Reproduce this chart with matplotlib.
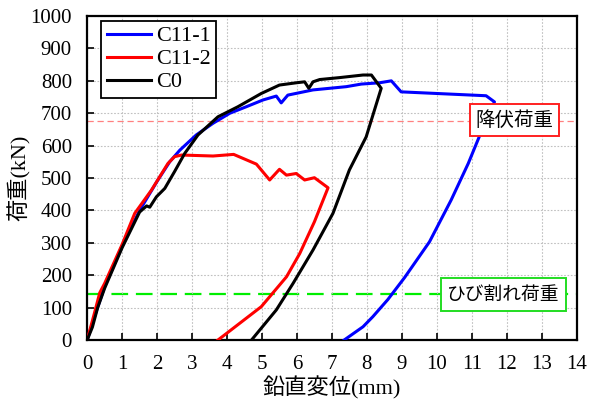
import matplotlib
matplotlib.use("Agg")
import matplotlib.pyplot as plt

# load-displacement curves (mm, kN)
c11_1_x = [0, 0.25, 0.5, 1.0, 1.5, 2.0, 2.36, 2.65, 3.12, 3.6, 4.08, 4.55, 5.03, 5.41, 5.55, 5.74,
           6.46, 7.41, 7.84, 8.36, 8.7, 8.98, 11.41, 11.65, 11.3, 10.9, 10.41, 9.79, 9.08, 8.6,
           8.17, 7.89, 7.35]
c11_1_y = [0, 85, 165, 290, 400, 490, 550, 586, 633, 669, 700, 720, 741, 753, 732, 756,
           772, 782, 790, 794, 800, 766, 754, 735, 650, 545, 432, 303, 193, 125,
           72, 41, 0]

c11_2_x = [0, 0.2, 0.36, 0.5, 1.0, 1.36, 1.84, 2.31, 2.5, 2.7, 3.6, 4.19, 4.84, 5.22, 5.5,
           5.7, 5.98, 6.22, 6.5, 6.89, 6.5, 6.08, 5.7, 4.98, 3.74]
c11_2_y = [0, 80, 146, 175, 295, 391, 463, 545, 566, 571, 568, 573, 543, 494, 527,
           509, 514, 494, 501, 470, 365, 267, 195, 103, 0]

c0_x = [0, 0.15, 0.3, 0.5, 1.0, 1.5, 1.7, 1.79, 1.98, 2.22, 2.5, 2.79, 3.17, 3.74, 4.31,
        4.98, 5.5, 5.98, 6.22, 6.34, 6.46, 6.65, 7.22, 7.89, 8.13, 8.41, 7.98, 7.5, 7.03,
        6.46, 5.89, 5.41, 4.7]
c0_y = [0, 40, 100, 160, 285, 395, 414, 410, 442, 468, 520, 576, 633, 689, 720,
        761, 787, 794, 797, 777, 797, 804, 810, 818, 818, 777, 627, 525, 391,
        278, 175, 93, 0]

yield_load = 676
crack_load = 141

serif = ['Liberation Serif', 'Noto Sans CJK JP']
gothic = ['Noto Sans CJK JP', 'DejaVu Sans']
plt.rcParams['font.family'] = serif

fig = plt.figure(figsize=(5.89, 4.01), dpi=100)
ax = fig.add_axes([0.148, 0.152, 0.831, 0.808])

ax.axhline(yield_load, color='#ff8080', lw=0.9, ls=(0, (5, 3)), zorder=1)
ax.axhline(crack_load, color='#00ee00', lw=1.6, ls=(0, (7.5, 3.5)), zorder=1)

ax.plot(c11_1_x, c11_1_y, color='#0000ff', lw=2.2, label='C11-1', zorder=3)
ax.plot(c11_2_x, c11_2_y, color='#ff0000', lw=2.2, label='C11-2', zorder=3)
ax.plot(c0_x, c0_y, color='black', lw=2.2, label='C0', zorder=3)

ax.text(12.22, 679, '降伏荷重', family=gothic, fontsize=14, ha='center', va='center',
        bbox=dict(boxstyle='square,pad=0.3', fc='white', ec='#ff2020', lw=1.4), zorder=4)
ax.text(11.9, 141, 'ひび割れ荷重', family=gothic, fontsize=13.5, ha='center', va='center',
        bbox=dict(boxstyle='square,pad=0.33', fc='white', ec='#22dd22', lw=1.4), zorder=4)

ax.set_xlim(0, 14)
ax.set_ylim(0, 1000)
ax.set_xticks(range(0, 15))
ax.set_yticks(range(0, 1001, 100))
ax.tick_params(direction='in', length=5, width=1.2, labelsize=15)
ax.tick_params(axis='x', pad=11)
ax.tick_params(axis='y', pad=11)
ax.grid(True, color='#c0c0c0', ls=(0, (1.5, 1.5)), lw=0.8)
for s in ax.spines.values():
    s.set_linewidth(1.6)

ax.set_xlabel('鉛直変位(mm)', fontsize=16, labelpad=1)
ax.set_ylabel('荷重(kN)', fontsize=16, labelpad=0)

leg = ax.legend(loc='upper left', bbox_to_anchor=(0.029, 0.986), borderaxespad=0,
                fontsize=16, fancybox=False, framealpha=1,
                edgecolor='black', handlelength=2.0, handleheight=0.6,
                labelspacing=0.15, handletextpad=0.2, borderpad=0.25)
leg.get_frame().set_linewidth(1.3)

fig.savefig('out.png', dpi=100)
